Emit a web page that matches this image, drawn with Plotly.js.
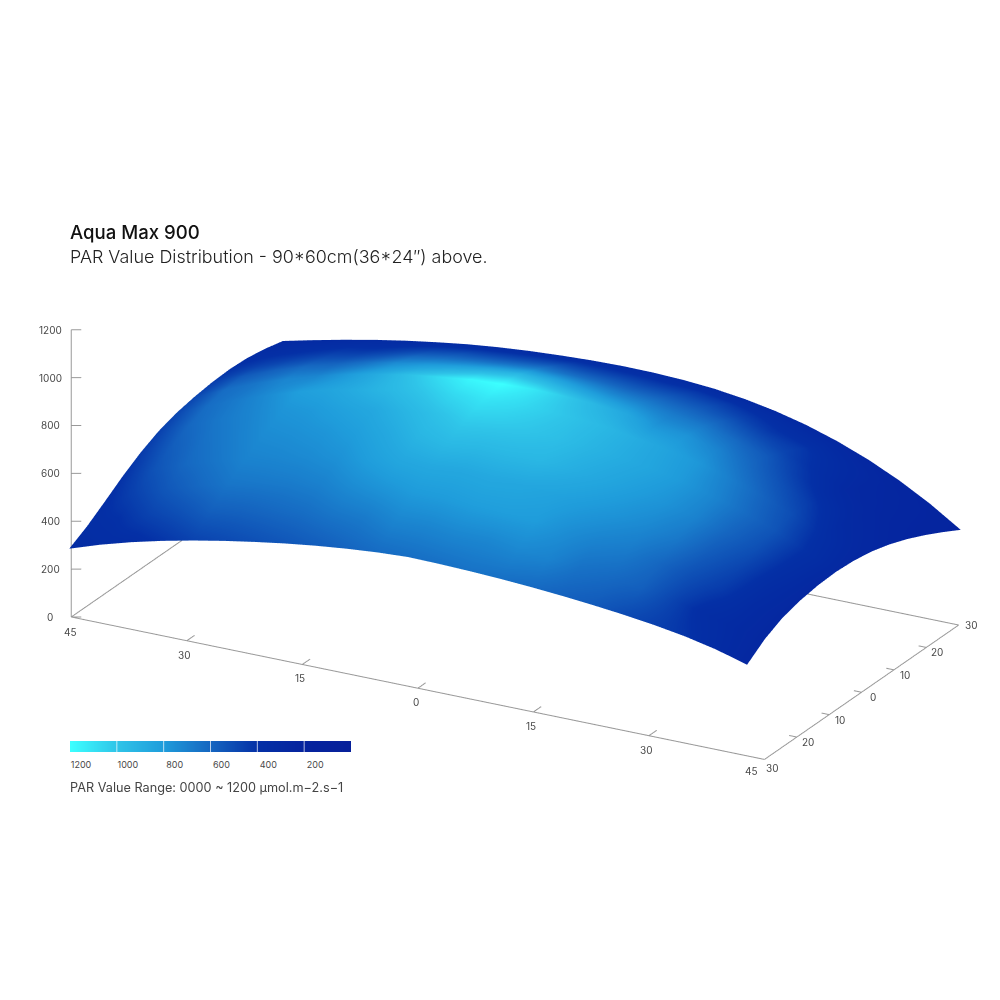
<!DOCTYPE html>
<html><head><meta charset="utf-8">
<script src="https://cdn.plot.ly/plotly-3.0.1.min.js"></script>
<style>html,body{margin:0;padding:0;background:#fff}#c{width:1000px;height:1000px}</style>
</head><body><div id="c"></div>
<script>
const gridX=[-44,-40,-36,-32,-28,-24,-20,-16,-12,-8,-4,0,4,8,12,16,20,24,28,32,36,40,44];
const gridY=[-33,-27.5,-22,-16.5,-11,-5.5,0,5.5,11,16.5,22,27.5,33];
const surfaceZ=[
[320,363,400,432,460,485,507,527,544,558,569,576,574,570,564,556,546,534,520,503,482,454,417],
[362,420,461,496,531,557,580,603,622,640,646,651,650,644,636,625,615,600,579,558,530,495,473],
[414,473,519,557,593,622,646,670,690,706,713,719,718,712,702,689,676,659,633,607,573,532,511],
[468,522,570,611,649,679,705,730,750,767,774,779,778,772,762,746,732,711,681,651,611,563,532],
[515,566,617,660,699,732,757,783,803,820,827,833,832,825,815,797,781,756,724,688,643,590,544],
[552,604,657,701,742,776,801,827,847,864,872,877,876,869,858,838,820,793,757,718,668,610,548],
[577,633,687,732,773,807,833,858,877,894,901,907,905,899,887,866,846,817,778,736,682,620,543],
[592,650,703,747,787,821,847,871,888,904,912,917,915,909,896,874,855,823,783,737,680,616,530],
[602,655,705,748,786,819,843,865,882,897,903,908,906,900,888,865,844,812,770,723,665,599,508],
[606,645,691,730,766,796,818,837,852,865,872,875,873,868,856,833,812,780,737,690,630,564,479],
[602,632,672,709,741,770,788,806,818,829,834,837,835,831,819,797,776,743,701,652,592,526,444],
[589,616,651,684,712,738,755,769,779,789,793,795,793,789,778,755,735,703,659,611,551,485,405],
[570,600,628,654,677,697,715,729,740,748,754,757,756,751,741,724,700,668,627,577,517,446,363]];
const surfaceValue=[
[340,360,370,420,470,495,520,545,570,600,625,635,640,650,640,620,590,560,500,460,420,340,270],
[365,400,470,520,580,590,610,630,660,680,715,715,725,720,730,710,650,620,580,480,370,320,275],
[385,470,550,610,660,670,680,700,740,770,795,800,810,810,800,750,710,680,610,520,440,330,275],
[410,530,610,660,710,720,735,760,810,850,860,855,860,850,830,800,770,730,670,570,480,350,280],
[440,570,640,690,740,755,775,810,860,920,950,940,940,930,890,850,810,770,710,610,520,380,280],
[460,610,670,715,770,790,825,860,920,980,1030,1020,1000,970,920,880,840,790,720,630,540,400,290],
[480,630,680,740,810,840,890,940,1000,1070,1110,1080,1030,980,930,880,830,780,690,600,510,370,280],
[480,630,660,720,720,790,880,980,1080,1170,1200,1120,1020,930,860,770,770,710,620,530,440,320,270],
[450,560,590,620,600,640,740,780,820,860,930,860,780,720,700,680,670,620,560,450,350,290,255],
[410,480,500,520,500,530,620,640,650,660,700,650,620,590,600,600,580,520,480,390,300,270,240],
[375,420,430,440,420,440,500,520,520,520,560,520,510,490,510,520,480,430,430,350,280,260,230],
[340,365,375,380,370,380,400,410,420,420,440,425,420,410,430,440,400,370,360,310,270,250,225],
[310,320,325,330,330,335,340,340,340,340,340,340,335,330,320,310,310,300,290,265,250,235,220]];
const colorStops=[[0,'#06209a'],[0.1667,'#05239e'],[0.3333,'#0430a6'],[0.5,'#1565c0'],[0.6667,'#1f9cdb'],[0.8333,'#2fc4e8'],[1,'#3cffff']];
const xTicks=[-45,-30,-15,0,15,30,45];
const xTickText=['45','30','15','0','15','30','45'];
const yTicks=[-30,-20,-10,0,10,20,30];
const yTickText=['30','20','10','0','10','20','30'];
const zTicks=[0,200,400,600,800,1000,1200];
const legendValues=[1200,1150,1100,1050,1000,950,900,850,800,750,700,650,600,550,500,450,400,350,300,250,200,150,100,50,0];
const legendTicks=[1200,1000,800,600,400,200];
const separators=[1000,800,600,400,200];

const lx=[],ly=[],lz=[];
function seg(a,b){lx.push(a[0],b[0],null);ly.push(a[1],b[1],null);lz.push(a[2],b[2],null);}
seg([-45,-30,0],[-45,-30,1200]);
seg([-45,-30,0],[45,-30,0]);
seg([45,-30,0],[45,30,0]);
seg([45,30,0],[-45,30,0]);
seg([-45,30,0],[-45,-30,0]);
xTicks.slice(1,-1).forEach(v=>seg([v,-30,0],[v,-27.6,0]));
yTicks.slice(1,-1).forEach(v=>seg([45,v,0],[44,v,0]));
zTicks.forEach(v=>seg([-45,-30,v],[-44,-29.3,v]));

const tickFont={family:'Inter, "Liberation Sans", sans-serif',size:10,color:'#484848'};
const ann=[];
function lab(x,y,z,t,dx,dy){ann.push({x,y,z,text:t,showarrow:false,xshift:dx,yshift:-dy,font:tickFont,xanchor:'center',yanchor:'middle'});}
xTicks.forEach((v,i)=>{ if(i==xTicks.length-1) lab(v,-30,0,xTickText[i],-13,12); else if(i==0) lab(v,-30,0,xTickText[i],-1,15); else lab(v,-30,0,xTickText[i],-2,14);});
yTicks.forEach((v,i)=>{ if(i==yTicks.length-1) lab(45,v,0,yTickText[i],13,0); else if(i==0) lab(45,v,0,yTickText[i],8,9); else lab(45,v,0,yTickText[i],11,5);});
zTicks.forEach(v=>lab(-45,-30,v,String(v),-21,0));

const traces=[
{type:'surface',x:gridX,y:gridY,z:surfaceZ,surfacecolor:surfaceValue,cmin:0,cmax:1200,colorscale:colorStops,showscale:false,
 lighting:{ambient:1,diffuse:0,specular:0,roughness:1,fresnel:0},hoverinfo:'z'},
{type:'scatter3d',mode:'lines',x:lx,y:ly,z:lz,line:{color:'#999999',width:2},connectgaps:false,hoverinfo:'skip',showlegend:false},
{type:'heatmap',x:legendValues,y:[0,1],z:[legendValues,legendValues],xaxis:'x',yaxis:'y',zmin:0,zmax:1200,zsmooth:'best',colorscale:colorStops,showscale:false,hoverinfo:'skip'}
];
const textFont='Inter, "Liberation Sans", sans-serif';
const layout={
 width:1000,height:1000,margin:{l:0,r:0,t:0,b:0},paper_bgcolor:'#fff',showlegend:false,
 title:{text:'Aqua Max 900',x:0.07,xanchor:'left',xref:'paper',y:0.768,yref:'paper',yanchor:'middle',font:{family:textFont,size:18.6,color:'#111',weight:500}},
 scene:{domain:{x:[0,1],y:[0,1]},
  xaxis:{visible:false,range:[-46,46]},yaxis:{visible:false,range:[-34,34]},zaxis:{visible:false,range:[0,1300]},
  aspectmode:'manual',aspectratio:{x:1.614,y:0.92,z:0.672},
  camera:{projection:{type:'orthographic'},eye:{x:0.8597,y:-1.6403,z:0.6793},center:{x:-0.0263,y:-0.0143,z:-0.0747},up:{x:0,y:0,z:1}},
  annotations:ann},
 xaxis:{domain:[0.07,0.351],range:[1200,0],tickvals:legendTicks,ticks:'',showgrid:false,zeroline:false,showline:false,anchor:'y',
  tickfont:{family:textFont,size:9,color:'#484848'},ticklabelshift:-11,ticklabelstandoff:6},
 yaxis:{domain:[0.248,0.259],range:[0,1],visible:false,anchor:'x'},
 shapes:separators.map(v=>({type:'line',xref:'x',yref:'paper',x0:v,x1:v,y0:0.248,y1:0.259,line:{color:'rgba(255,255,255,0.7)',width:1},layer:'above'})),
 annotations:[
  {xref:'paper',yref:'paper',x:0.068,y:0.744,xanchor:'left',yanchor:'middle',showarrow:false,text:'PAR Value Distribution - 90*60cm(36*24″) above.',font:{family:textFont,size:17.9,color:'#222',weight:300}},
  {xref:'paper',yref:'paper',x:0.068,y:0.213,xanchor:'left',yanchor:'middle',showarrow:false,text:'PAR Value Range: 0000 ~ 1200 µmol.m−2.s−1',font:{family:textFont,size:12.7,color:'#444'}}
 ]
};
Plotly.newPlot('c',traces,layout,{displayModeBar:false});
</script></body></html>
